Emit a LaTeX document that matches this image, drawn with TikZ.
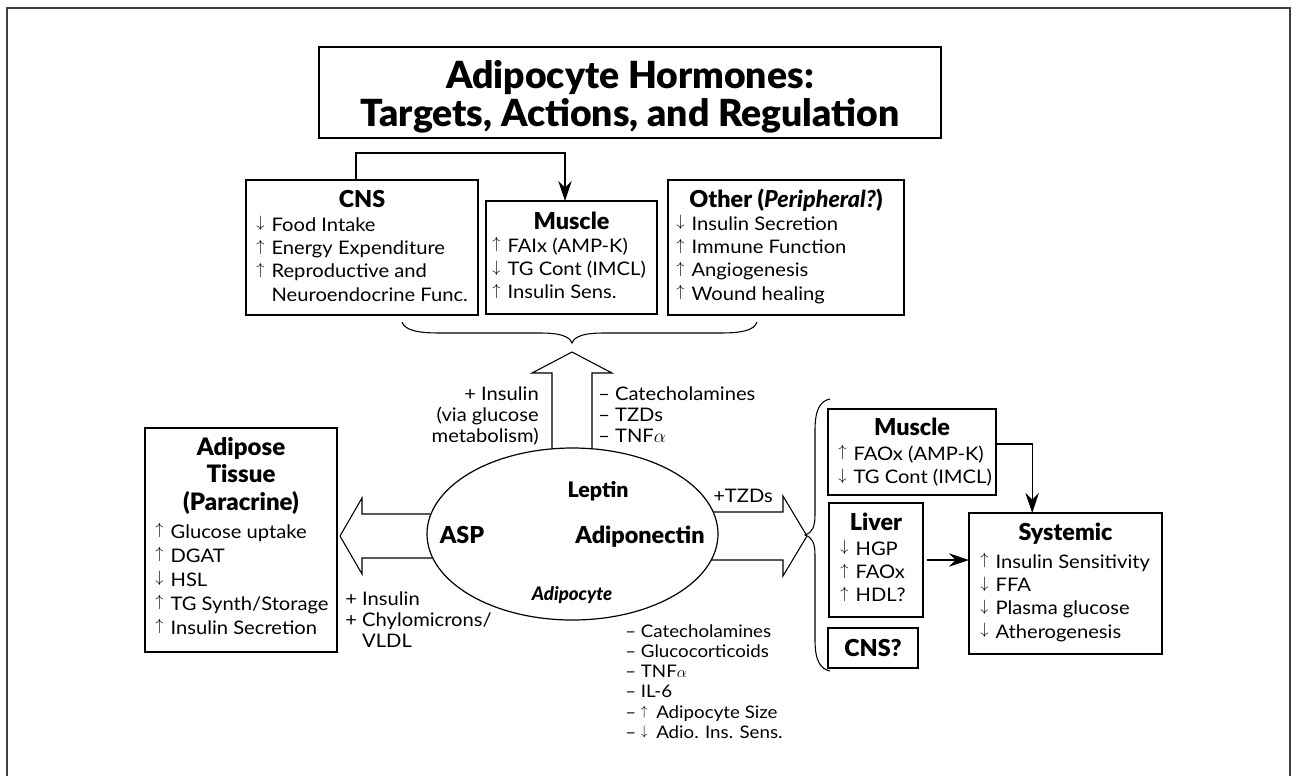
\documentclass[tikz,border=0pt]{standalone}
\usepackage{fontspec}
\usepackage{graphicx}
\setmainfont{Lato}[FakeStretch=1.08]
\newfontfamily\hdfont{Lato Black}
\usetikzlibrary{arrows.meta,shapes.geometric}
\newlength\arrw \setlength\arrw{11.5pt}
\newcommand\arrup{\makebox[\arrw][l]{\raisebox{0.165em}{\scalebox{0.85}{$\uparrow$}}}}
\newcommand\arrdn{\makebox[\arrw][l]{\raisebox{0.165em}{\scalebox{0.85}{$\downarrow$}}}}
\newcommand\myBody{\fontsize{14}{17.5}\selectfont}
\newcommand\myLbl{\fontsize{14}{15.75}\selectfont}
\newcommand\myHead{\fontsize{17.5}{21.75}\selectfont\hdfont}
\tikzset{
  box/.style={draw=black, line width=0.9pt, fill=white, inner sep=0pt, outer sep=0pt},
  hd/.style={font=\myHead, inner sep=0pt, anchor=base},
  lst/.style={font=\myBody, inner sep=0pt, anchor=base west},
  lbl/.style={font=\myLbl, inner sep=0pt},
  conn/.style={line width=0.8pt, -{Stealth[length=15pt,width=10pt,inset=5pt]}},
  big/.style={line width=0.8pt, line join=miter},
  brc/.style={line width=0.8pt},
  frame/.style={draw=black!75, line width=1.5pt}
}
\begin{document}
\begin{tikzpicture}[x=0.75pt,y=-0.75pt]
\useasboundingbox (0,0) rectangle (1293,776);
\draw[frame] (7,776) -- (7,8) -- (1290,8) -- (1290,776);

% title
\node[box, minimum width=622*0.75pt, minimum height=91*0.75pt] (title) at (630,92.5) {};
\node[inner sep=0pt, anchor=base, font=\fontsize{28}{25.5}\selectfont\hdfont] (titletext) at (630,88)
  {\begin{tabular}[t]{@{}c@{}}Adipocyte Hormones:\\Targets, Actions, and Regulation\end{tabular}};

% top boxes
\node[box, minimum width=232*0.75pt, minimum height=135*0.75pt] (cns) at (362,247.5) {};
\node[hd] (cnsh) at (362,207) {CNS};
\node[lst] (cnsl) at (256,231) {\begin{tabular}[t]{@{}l@{}}\arrdn Food Intake\\ \arrup Energy Expenditure\\ \arrup Reproductive and\\ \hspace*{\arrw}Neuroendocrine Func.\end{tabular}};

\node[box, minimum width=171*0.75pt, minimum height=113*0.75pt] (mus1) at (571.5,257.5) {};
\node[hd] (mus1h) at (571.5,229) {Muscle};
\node[lst] (mus1l) at (492,252) {\begin{tabular}[t]{@{}l@{}}\arrup FAIx (AMP-K)\\ \arrdn TG Cont (IMCL)\\ \arrup Insulin Sens.\end{tabular}};

\node[box, minimum width=236*0.75pt, minimum height=135*0.75pt] (oth) at (786,247.5) {};
\node[hd] (othh) at (786,207) {Other (\itshape Peripheral?\upshape)};
\node[lst] (othl) at (676,230) {\begin{tabular}[t]{@{}l@{}}\arrdn Insulin Secretion\\ \arrup Immune Function\\ \arrup Angiogenesis\\ \arrup Wound healing\end{tabular}};

\coordinate (bend) at (565,153);
\draw[conn] ([xshift=-4.5pt]cns.north) |- (bend) -- (bend |- mus1.north);

% top brace
\draw[brc] (402,322) .. controls (405,331) and (420,333) .. (440,333) -- (540,333)
  .. controls (560,333) and (569,336) .. (572,343)
  .. controls (575,336) and (584,333) .. (604,333) -- (720,333)
  .. controls (740,333) and (754,331) .. (757,322);

% adipocyte
\node[draw, ellipse, line width=0.9pt, inner sep=0pt, minimum width=291*0.75pt, minimum height=172*0.75pt] (adip) at (572.5,534) {};
\node[inner sep=0pt, anchor=base, font=\fontsize{16}{19}\selectfont\hdfont] (leptin) at (598,497) {Leptin};
\node[inner sep=0pt, anchor=base, font=\fontsize{17.5}{21}\selectfont\hdfont] (asp) at (462,543) {ASP};
\node[inner sep=0pt, anchor=base, font=\fontsize{17.5}{21}\selectfont\hdfont] (adpn) at (640,543) {Adiponectin};
\node[inner sep=0pt, anchor=base, font=\fontsize{14}{17}\selectfont\hdfont\itshape] (adcy) at (572,600) {Adipocyte};

% big arrows
\draw[big] (552,449) -- (552,373) -- (532,373) -- (572,352) -- (612,373) -- (592,373) -- (592,449);
\draw[big] (430.5,514) -- (362,514) -- (362,498) -- (340,536) -- (362,574) -- (362,558) -- (432,558);
\draw[big] (713,512) -- (783,512) -- (783,496) -- (807,536) -- (783,576) -- (783,560) -- (711,560);

% labels
\node[lbl, anchor=base east] (uplabl) at (539,400) {\begin{tabular}[t]{@{}r@{}}+ Insulin\\(via glucose\\metabolism)\end{tabular}};
\node[lbl, anchor=base west] (uplabr) at (598,400) {\begin{tabular}[t]{@{}l@{}}– Catecholamines\\– TZDs\\– TNF$\alpha$\end{tabular}};
\node[lbl, anchor=base east] (leftlab) at (492,605) {\begin{tabular}[t]{@{}l@{}}+ Insulin\\+ Chylomicrons/\\\phantom{+ }VLDL\end{tabular}};
\node[lbl, anchor=base west] (tzd) at (713,502) {+TZDs};
\node[lbl, anchor=base west, font=\fontsize{13}{15.2}\selectfont] (botlab) at (625,637) {\begin{tabular}[t]{@{}l@{}}– Catecholamines\\– Glucocorticoids\\– TNF$\alpha$\\– IL-6\\– \arrup Adipocyte Size\\– \arrdn Adio. Ins. Sens.\end{tabular}};

% adipose tissue box
\node[box, minimum width=192*0.75pt, minimum height=224*0.75pt] (adt) at (241,540) {};
\node[inner sep=0pt, anchor=base, font=\fontsize{18}{21.75}\selectfont\hdfont] (adth) at (241,455) {\begin{tabular}[t]{@{}c@{}}Adipose\\[-1pt]Tissue\\[-1pt](Paracrine)\end{tabular}};
\node[lst, font=\fontsize{14}{18}\selectfont] (adtl) at (155,538) {\begin{tabular}[t]{@{}l@{}}\arrup Glucose uptake\\ \arrup DGAT\\ \arrdn HSL\\ \arrup TG Synth/Storage\\ \arrup Insulin Secretion\end{tabular}};

% right brace
\draw[brc] (830,399) .. controls (820,401) and (815,410) .. (815,430) -- (815,515)
  .. controls (815,527) and (812,533) .. (805,535)
  .. controls (812,537) and (815,543) .. (815,555) -- (815,640)
  .. controls (815,660) and (820,669) .. (830,671);

% right boxes
\node[box, minimum width=168*0.75pt, minimum height=86*0.75pt] (mus2) at (912,452) {};
\node[hd] (mus2h) at (912,435) {Muscle};
\node[lst] (mus2l) at (838,460) {\begin{tabular}[t]{@{}l@{}}\arrup FAOx (AMP-K)\\ \arrdn TG Cont (IMCL)\end{tabular}};

\node[box, minimum width=94*0.75pt, minimum height=114*0.75pt] (liver) at (876,560) {};
\node[hd] (liverh) at (876,530) {Liver};
\node[lst] (liverl) at (840,555) {\begin{tabular}[t]{@{}l@{}}\arrdn HGP\\ \arrup FAOx\\ \arrup HDL?\end{tabular}};

\node[box, minimum width=90*0.75pt, minimum height=40*0.75pt] (cnsq) at (873,648) {};
\node[hd] (cnsqh) at (873,656) {CNS?};

\node[box, minimum width=193*0.75pt, minimum height=141*0.75pt] (sys) at (1065.5,583.5) {};
\node[hd] (sysh) at (1065.5,540) {Systemic};
\node[lst] (sysl) at (980,568) {\begin{tabular}[t]{@{}l@{}}\arrup Insulin Sensitivity\\ \arrdn FFA\\ \arrdn Plasma glucose\\ \arrdn Atherogenesis\end{tabular}};

\draw[conn] ([yshift=6pt]mus2.east) -| ([xshift=-25pt]sys.north);
\draw[conn] ([xshift=3pt]liver.east) -- (liver.east -| sys.west);
\end{tikzpicture}
\end{document}
